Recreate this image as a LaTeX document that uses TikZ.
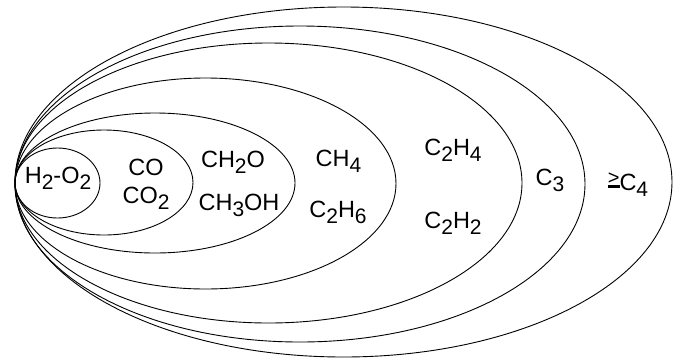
\documentclass[tikz,border=0pt]{standalone}
\usepackage{fontspec}
\setmainfont{Liberation Sans}

\newcommand{\lowdig}[1]{\raisebox{-6.5pt}{\fontsize{21}{21}\selectfont #1}}
\newcommand{\gemark}{\rlap{\rule[2pt]{12pt}{3.5pt}}\raisebox{6pt}{\fontsize{20}{20}\selectfont >}}

\begin{document}
\begin{tikzpicture}[
x=1pt,
y=-1pt,
every node/.style={
    font=\fontsize{23.5}{25}\selectfont,
    inner sep=0pt,
    anchor=base
},
shell/.style={draw, line width=0.9pt}
]
\useasboundingbox (0,0) rectangle (673,360);

%---------------- Shells ----------------
\draw[shell] (57.5,183) ellipse (42.5pt and 35pt);
\draw[shell] (104,182.5) ellipse (89pt and 52.5pt);
\draw[shell] (155,183) ellipse (140pt and 70pt);
\draw[shell] (205.5,183.5) ellipse (190.5pt and 105.5pt);
\draw[shell] (268.5,183) ellipse (253.5pt and 140pt);
\draw[shell] (300,184) ellipse (285pt and 158pt);
\draw[shell] (343.5,182) ellipse (328.5pt and 175pt);

%---------------- Species ----------------
\node (hyd) at (58,183) {H\lowdig{2}-O\lowdig{2}};

\node (co) at (146,175) {CO};
\node (coo) at (146,203) {CO\lowdig{2}};

\node (form) at (233,167) {CH\lowdig{2}O};
\node (meth) at (239,210) {CH\lowdig{3}OH};

\node (ch) at (338.5,166) {CH\lowdig{4}};
\node (eth) at (338,217) {C\lowdig{2}H\lowdig{6}};

\node (ethy) at (453,155) {C\lowdig{2}H\lowdig{4}};
\node (acet) at (453,228) {C\lowdig{2}H\lowdig{2}};

\node (cthree) at (550,185) {C\lowdig{3}};
\node (cfour) at (628,190) {\gemark C\lowdig{4}};

\end{tikzpicture}
\end{document}
